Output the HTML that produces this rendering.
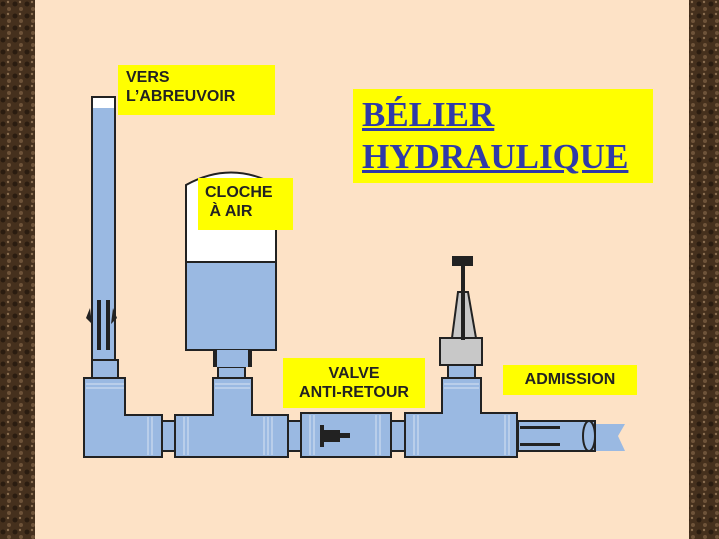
<!DOCTYPE html>
<html><head><meta charset="utf-8"><style>
html,body{margin:0;padding:0;width:719px;height:539px;overflow:hidden;background:#fde2c6}
.lab{position:absolute;background:#ffff00;font-family:"Liberation Sans",Arial,sans-serif;font-weight:bold;color:#222;font-size:16px;line-height:19px}
</style></head><body>
<svg width="719" height="539" style="position:absolute;left:0;top:0">
<defs>
<pattern id="m" width="12" height="12" patternUnits="userSpaceOnUse">
<rect width="12" height="12" fill="#45301d"/>
<circle cx="3" cy="4" r="2.5" fill="#2a1c10"/><circle cx="9" cy="9" r="2" fill="#6e5339"/><circle cx="8" cy="2" r="1.2" fill="#8a6e50"/>
</pattern>
</defs>
<rect x="0" y="0" width="35" height="539" fill="url(#m)"/>
<rect x="689" y="0" width="30" height="539" fill="url(#m)"/>
<g stroke="#222" stroke-width="2" fill="#9ab9e2">
<rect x="92" y="97" width="23" height="263"/>
<rect x="93" y="98" width="21" height="10" fill="#fff" stroke="none"/>
<rect x="92" y="360" width="26" height="18"/>
<path d="M84 378 H125 V415 H162 V457 H84 Z"/>
<rect x="162" y="421" width="13" height="30"/>
<path d="M175 415 H213 V378 H252 V415 H288 V457 H175 Z"/>
<rect x="218" y="367" width="27" height="11"/>
<path d="M186 350 V185 Q231 160 276 185 V350 Z" fill="#fff"/>
<rect x="186" y="262" width="90" height="88"/>
<rect x="213" y="350" width="39" height="17" stroke-width="0"/>
<rect x="213" y="350" width="4" height="17" fill="#222" stroke="none"/>
<rect x="248" y="350" width="4" height="17" fill="#222" stroke="none"/>
<rect x="288" y="421" width="13" height="30"/>
<rect x="301" y="413" width="90" height="44"/>
<rect x="391" y="421" width="14" height="30"/>
<path d="M405 413 H442 V378 H481 V413 H517 V457 H405 Z"/>
<rect x="448" y="365" width="27" height="13"/>
<rect x="440" y="338" width="42" height="27" fill="#c8c8c8"/>
<path d="M452 338 L458 292 H468 L476 338 Z" fill="#c8c8c8"/>
<rect x="518" y="421" width="77" height="30"/>
<ellipse cx="589" cy="436" rx="6" ry="15"/>
</g>
<path d="M596 424 H625 L618 436 L625 451 H596 Z" fill="#9ab9e2"/>
<rect x="461" y="258" width="4" height="82" fill="#222"/>
<rect x="452" y="256" width="21" height="10" fill="#222"/>
<g fill="#222">
<rect x="320" y="425" width="4" height="22"/><rect x="324" y="430" width="16" height="12"/><rect x="340" y="433" width="10" height="5"/>
<rect x="520" y="426" width="40" height="3"/><rect x="520" y="443" width="40" height="3"/>
<path d="M86 318 l4 -10 l2 16z M117 318 l-4 -10 l-2 16z"/>
<rect x="97" y="300" width="4" height="50"/><rect x="106" y="300" width="4" height="50"/>
</g>
<g stroke="#e8eef8" stroke-width="1" opacity="0.8">
<path d="M264 417V455M268 417V455M272 417V455M184 417V455M188 417V455M310 415V455M314 415V455M376 415V455M380 415V455M414 415V455M418 415V455M505 415V455M509 415V455M148 417V455M152 417V455"/>
<path d="M86 384H124M86 388H124M215 384H250M215 388H250M444 384H479M444 388H479"/>
</g>
</svg>
<div class="lab" style="left:118px;top:65px;width:157px;height:50px;padding:3px 0 0 8px;box-sizing:border-box">VERS<br>L’ABREUVOIR</div>
<div class="lab" style="left:198px;top:178px;width:95px;height:52px;padding:5px 0 0 7px;box-sizing:border-box">CLOCHE<br>&nbsp;À AIR</div>
<div class="lab" style="left:283px;top:358px;width:142px;height:50px;padding:6px 0 0 0;box-sizing:border-box;text-align:center">VALVE<br>ANTI-RETOUR</div>
<div class="lab" style="left:503px;top:365px;width:134px;height:30px;padding:5px 0 0 0;box-sizing:border-box;text-align:center">ADMISSION</div>
<div style="position:absolute;left:353px;top:89px;width:300px;height:94px;background:#ffff00;font-family:'Liberation Serif',serif;font-weight:bold;font-size:35px;line-height:42px;color:#2f3aa8;text-decoration:underline;padding:5px 0 0 9px;box-sizing:border-box">BÉLIER<br>HYDRAULIQUE</div>
</body></html>
